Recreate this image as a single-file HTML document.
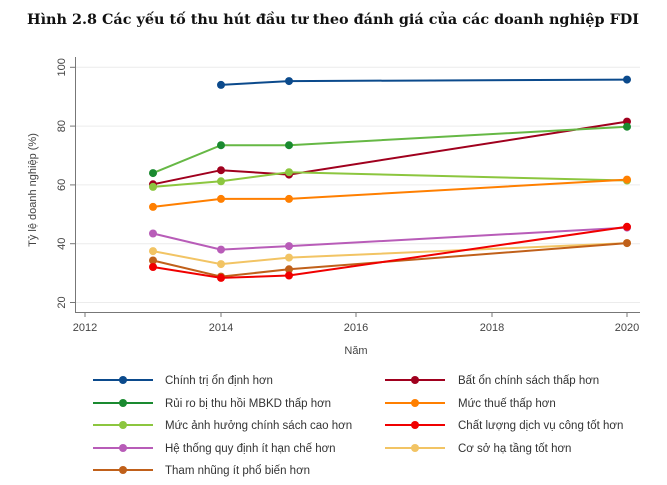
<!DOCTYPE html><html><head><meta charset="utf-8"><style>body{margin:0;background:#fff}svg{display:block}text{font-family:"Liberation Sans",sans-serif}</style></head><body>
<svg width="667" height="485" viewBox="0 0 667 485">
<text x="27" y="24" textLength="612" lengthAdjust="spacingAndGlyphs" style="font-family:'DejaVu Serif','Liberation Serif',serif;font-weight:bold;font-size:14px" fill="#111">Hình 2.8 Các yếu tố thu hút đầu tư theo đánh giá của các doanh nghiệp FDI</text>
<g stroke="#ececec" stroke-width="1"><line x1="76" x2="640" y1="67.3" y2="67.3"/><line x1="76" x2="640" y1="126.1" y2="126.1"/><line x1="76" x2="640" y1="184.9" y2="184.9"/><line x1="76" x2="640" y1="243.7" y2="243.7"/><line x1="76" x2="640" y1="302.5" y2="302.5"/></g>
<g stroke="#777" stroke-width="1"><line x1="75.5" y1="57" x2="75.5" y2="312.5"/><line x1="75" y1="312.5" x2="640" y2="312.5"/>
<line x1="70" x2="75" y1="67.3" y2="67.3"/><line x1="70" x2="75" y1="126.1" y2="126.1"/><line x1="70" x2="75" y1="184.9" y2="184.9"/><line x1="70" x2="75" y1="243.7" y2="243.7"/><line x1="70" x2="75" y1="302.5" y2="302.5"/>
<line x1="85" x2="85" y1="312" y2="317"/><line x1="221" x2="221" y1="312" y2="317"/><line x1="356" x2="356" y1="312" y2="317"/><line x1="492" x2="492" y1="312" y2="317"/><line x1="627" x2="627" y1="312" y2="317"/></g>
<g font-size="11" fill="#444" text-anchor="middle">
<text transform="translate(65,67.3) rotate(-90)" y="0">100</text><text transform="translate(65,126.1) rotate(-90)">80</text><text transform="translate(65,184.9) rotate(-90)">60</text><text transform="translate(65,243.7) rotate(-90)">40</text><text transform="translate(65,302.5) rotate(-90)">20</text>
<text x="85" y="331">2012</text><text x="221" y="331">2014</text><text x="356" y="331">2016</text><text x="492" y="331">2018</text><text x="627" y="331">2020</text>
<text x="356" y="354">Năm</text>
<text transform="translate(36,190) rotate(-90)">Tỷ lệ doanh nghiệp (%)</text></g>
<g stroke-width="2" fill="none">
<polyline stroke="#0b4a8c" points="221,84.9 289,81.1 627,79.6"/>
<polyline stroke="#a0001e" points="153,184.3 221,170.2 289,174.6 627,121.6"/>
<polyline stroke="#66b845" points="153,173.1 221,145.2 289,145.2 627,126.7"/>
<polyline stroke="#8cc63f" points="153,186.9 221,181.3 289,172.2 627,180.5"/>
<polyline stroke="#ff7f00" points="153,206.9 221,198.9 289,198.9 627,179.6"/>
<polyline stroke="#b85cb8" points="153,233.5 221,249.6 289,246.1 627,227.6"/>
<polyline stroke="#f2c464" points="153,251.1 221,264.1 289,257.6 627,243.1"/>
<polyline stroke="#c0601a" points="153,260.5 221,276.6 289,269.3 627,243.1"/>
<polyline stroke="#f00000" points="153,267.0 221,277.9 289,275.5 627,226.8"/>
</g>
<g>
<g fill="#0b4a8c"><circle cx="221" cy="84.9" r="4"/><circle cx="289" cy="81.1" r="4"/><circle cx="627" cy="79.6" r="4"/></g>
<g fill="#a0001e"><circle cx="153" cy="184.3" r="4"/><circle cx="221" cy="170.2" r="4"/><circle cx="289" cy="174.6" r="4"/><circle cx="627" cy="121.6" r="4"/></g>
<g fill="#1a8a30"><circle cx="153" cy="173.1" r="4"/><circle cx="221" cy="145.2" r="4"/><circle cx="289" cy="145.2" r="4"/><circle cx="627" cy="126.7" r="4"/></g>
<g fill="#8cc63f"><circle cx="153" cy="186.9" r="4"/><circle cx="221" cy="181.3" r="4"/><circle cx="289" cy="172.2" r="4"/><circle cx="627" cy="180.5" r="4"/></g>
<g fill="#ff7f00"><circle cx="153" cy="206.9" r="4"/><circle cx="221" cy="198.9" r="4"/><circle cx="289" cy="198.9" r="4"/><circle cx="627" cy="179.6" r="4"/></g>
<g fill="#b85cb8"><circle cx="153" cy="233.5" r="4"/><circle cx="221" cy="249.6" r="4"/><circle cx="289" cy="246.1" r="4"/><circle cx="627" cy="227.6" r="4"/></g>
<g fill="#f2c464"><circle cx="153" cy="251.1" r="4"/><circle cx="221" cy="264.1" r="4"/><circle cx="289" cy="257.6" r="4"/><circle cx="627" cy="243.1" r="4"/></g>
<g fill="#c0601a"><circle cx="153" cy="260.5" r="4"/><circle cx="221" cy="276.6" r="4"/><circle cx="289" cy="269.3" r="4"/><circle cx="627" cy="243.1" r="4"/></g>
<g fill="#f00000"><circle cx="153" cy="267.0" r="4"/><circle cx="221" cy="277.9" r="4"/><circle cx="289" cy="275.5" r="4"/><circle cx="627" cy="226.8" r="4"/></g>
</g>
<g font-size="11.5" fill="#333" stroke-width="2">
<line x1="93" x2="153" y1="380" y2="380" stroke="#0b4a8c"/><circle cx="123" cy="380" r="4" fill="#0b4a8c"/><text x="165" y="384">Chính trị ổn định hơn</text>
<line x1="93" x2="153" y1="403" y2="403" stroke="#1a8a30"/><circle cx="123" cy="403" r="4" fill="#1a8a30"/><text x="165" y="407">Rủi ro bị thu hồi MBKD thấp hơn</text>
<line x1="93" x2="153" y1="425" y2="425" stroke="#8cc63f"/><circle cx="123" cy="425" r="4" fill="#8cc63f"/><text x="165" y="429">Mức ảnh hưởng chính sách cao hơn</text>
<line x1="93" x2="153" y1="448" y2="448" stroke="#b85cb8"/><circle cx="123" cy="448" r="4" fill="#b85cb8"/><text x="165" y="452">Hệ thống quy định ít hạn chế hơn</text>
<line x1="93" x2="153" y1="470" y2="470" stroke="#c0601a"/><circle cx="123" cy="470" r="4" fill="#c0601a"/><text x="165" y="474">Tham nhũng ít phổ biến hơn</text>
<line x1="385" x2="445" y1="380" y2="380" stroke="#a0001e"/><circle cx="415" cy="380" r="4" fill="#a0001e"/><text x="458" y="384">Bất ổn chính sách thấp hơn</text>
<line x1="385" x2="445" y1="403" y2="403" stroke="#ff7f00"/><circle cx="415" cy="403" r="4" fill="#ff7f00"/><text x="458" y="407">Mức thuế thấp hơn</text>
<line x1="385" x2="445" y1="425" y2="425" stroke="#f00000"/><circle cx="415" cy="425" r="4" fill="#f00000"/><text x="458" y="429">Chất lượng dịch vụ công tốt hơn</text>
<line x1="385" x2="445" y1="448" y2="448" stroke="#f2c464"/><circle cx="415" cy="448" r="4" fill="#f2c464"/><text x="458" y="452">Cơ sở hạ tầng tốt hơn</text>
</g>
</svg></body></html>
